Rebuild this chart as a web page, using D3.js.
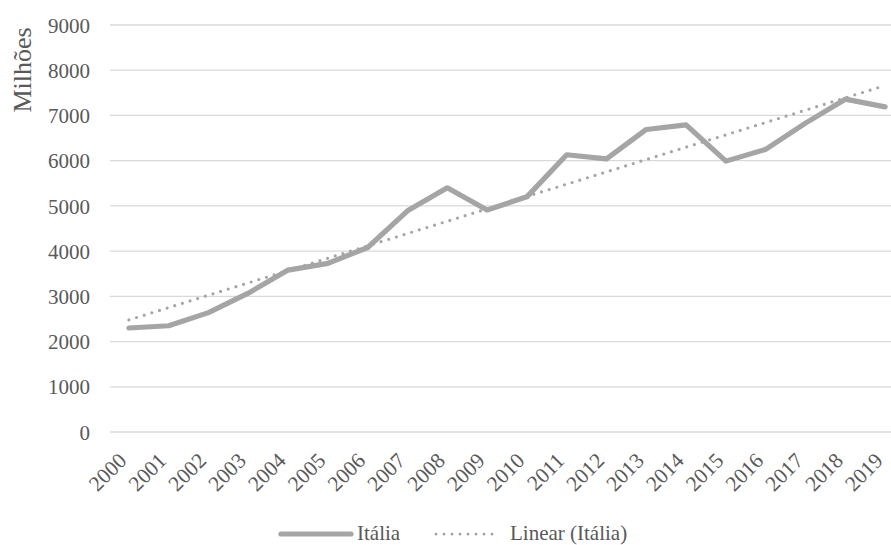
<!DOCTYPE html>
<html>
<head>
<meta charset="utf-8">
<script src="https://cdn.jsdelivr.net/npm/d3@7/dist/d3.min.js"></script>
<style>
  html, body { margin: 0; padding: 0; background: #fff; overflow: hidden; }
  svg { display: block; }
</style>
</head>
<body>
<svg id="chart" width="891" height="545"></svg>
<script>
// Italy, yearly values (millions)
const years = ["2000","2001","2002","2003","2004","2005","2006","2007","2008","2009",
               "2010","2011","2012","2013","2014","2015","2016","2017","2018","2019"];
const italia = [2300, 2350, 2640, 3070, 3580, 3730, 4080, 4890, 5400, 4910,
                5200, 6130, 6040, 6690, 6790, 5990, 6250, 6830, 7360, 7190];
const yTicks = [0, 1000, 2000, 3000, 4000, 5000, 6000, 7000, 8000, 9000];
const seriesName = "Itália";
const trendName = "Linear (Itália)";
const yTitle = "Milhões";

const serif = "Liberation Serif";
const textColor = "#595959";
const svg = d3.select("#chart");

const x = d3.scaleBand().domain(years).range([109, 905]).padding(0);
const cx = d => x(d) + x.bandwidth() / 2;
const y = d3.scaleLinear().domain([0, 9000]).range([432, 25]);

// horizontal gridlines
svg.append("g").selectAll("line").data(yTicks).join("line")
  .attr("x1", 110).attr("x2", 905)
  .attr("y1", d => y(d)).attr("y2", d => y(d))
  .attr("stroke", "#d9d9d9").attr("stroke-width", 1.3);

// y axis labels
const yAxis = d3.axisLeft(y).tickValues(yTicks).tickSize(0).tickPadding(0).tickFormat(d3.format("d"));
const gy = svg.append("g").attr("transform", "translate(90,0)").call(yAxis);
gy.attr("font-family", serif).attr("font-size", 21);
gy.select(".domain").remove();
gy.selectAll("text").attr("fill", textColor).attr("dy", "0.34em");

// x axis labels, rotated
const xAxis = d3.axisBottom(x).tickSize(0).tickPadding(0);
const gx = svg.append("g").call(xAxis);
gx.attr("font-family", serif).attr("font-size", 21.5);
gx.select(".domain").remove();
gx.selectAll(".tick").attr("transform", d => `translate(${cx(d) - 1},462)`);
gx.selectAll("text")
  .attr("fill", textColor)
  .attr("y", 0).attr("dy", 0).attr("x", 0)
  .attr("text-anchor", "end")
  .attr("transform", "rotate(-45)");

// axis title
svg.append("text")
  .attr("transform", "translate(31,70) rotate(-90)")
  .attr("text-anchor", "middle")
  .attr("font-family", serif).attr("font-size", 26)
  .attr("fill", textColor)
  .text(yTitle);

// linear trend (least squares over the series)
const n = italia.length;
const xs = d3.range(n);
const mx = d3.mean(xs), my = d3.mean(italia);
const slope = d3.sum(xs, i => (i - mx) * (italia[i] - my)) / d3.sum(xs, i => (i - mx) ** 2);
const intercept = my - slope * mx;
const trend = xs.map(i => intercept + slope * i);

const line = d3.line().x((d, i) => cx(years[i])).y(d => y(d));

svg.append("path").datum(italia)
  .attr("d", line)
  .attr("fill", "none").attr("stroke", "#a5a5a5").attr("stroke-width", 5.2)
  .attr("stroke-linejoin", "round").attr("stroke-linecap", "round");

svg.append("path").datum(trend)
  .attr("d", line)
  .attr("fill", "none").attr("stroke", "#a5a5a5").attr("stroke-width", 3.2)
  .attr("stroke-linecap", "round").attr("stroke-dasharray", "0,8");

// legend
const lg = svg.append("g").attr("font-family", serif).attr("font-size", 21).attr("fill", textColor);
lg.append("line").attr("x1", 281).attr("x2", 351).attr("y1", 534).attr("y2", 534)
  .attr("stroke", "#a5a5a5").attr("stroke-width", 5.2).attr("stroke-linecap", "round");
lg.append("text").attr("x", 357).attr("y", 540).text(seriesName);
lg.append("line").attr("x1", 436).attr("x2", 500).attr("y1", 534).attr("y2", 534)
  .attr("stroke", "#a5a5a5").attr("stroke-width", 3)
  .attr("stroke-linecap", "round").attr("stroke-dasharray", "0,8");
lg.append("text").attr("x", 510).attr("y", 540).text(trendName);
</script>
</body>
</html>
